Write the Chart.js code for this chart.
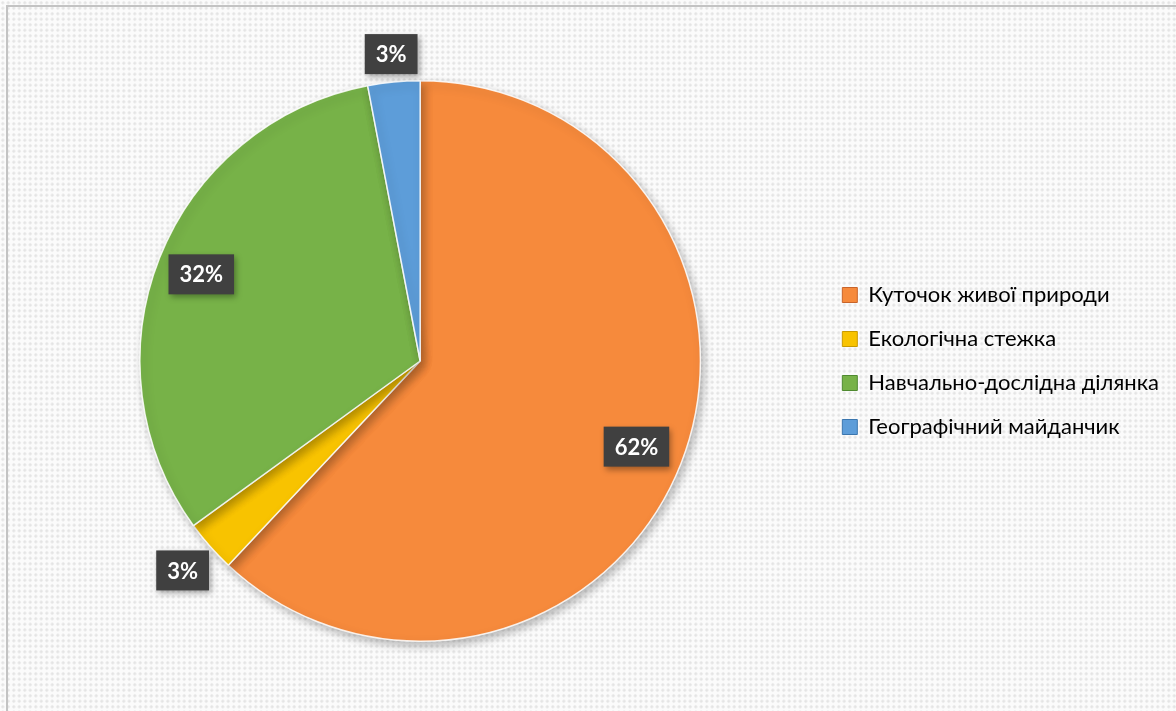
<!DOCTYPE html>
<html>
<head>
<meta charset="utf-8">
<script src="https://cdn.jsdelivr.net/npm/chart.js@4.4.1/dist/chart.umd.min.js"></script>
<style>
  html, body { margin: 0; padding: 0; background: #ffffff; }
  #wrap {
    position: absolute; left: 0; top: 0; width: 1176px; height: 711px; overflow: hidden;
    background-color: #fbfbfb;
    background-image: radial-gradient(circle, #e4e4e4 1.2px, rgba(255,255,255,0) 1.8px);
    background-size: 5.5px 5.5px;
  }
  #frame {
    position: absolute; left: 6px; top: 5px; width: 1200px; height: 740px;
    border-left: 2px solid #c3c3c3; border-top: 2px solid #c3c3c3;
  }
  canvas { position: absolute; left: 0; top: 0; }
</style>
</head>
<body>
<div id="wrap">
  <div id="frame"></div>
  <canvas id="c" width="1176" height="711"></canvas>
</div>
<script>
const categories = ['Куточок живої природи', 'Екологічна стежка', 'Навчально-дослідна ділянка', 'Географічний майданчик'];
const values = [62, 3, 32, 3];
const valueLabels = ['62%', '3%', '32%', '3%'];

const baseColors = ['#F68A3C', '#F8C300', '#77B248', '#5D9DD9'];
const rimColors  = ['#C8642A', '#C89A00', '#4F8A30', '#3B76AE'];
const labelDist  = [0.83, 1.13, 0.84, 1.10];

function sliceFill(ctx) {
  const chart = ctx.chart;
  const i = ctx.dataIndex;
  if (i === undefined) return baseColors[0];
  const meta = chart.getDatasetMeta(0);
  const arc = meta.data[i];
  if (!arc || !arc.outerRadius) return baseColors[i];
  const g = chart.ctx.createRadialGradient(arc.x, arc.y, 0, arc.x, arc.y, arc.outerRadius);
  g.addColorStop(0, baseColors[i]);
  g.addColorStop(0.955, baseColors[i]);
  g.addColorStop(1, rimColors[i]);
  return g;
}

const shadowPlugin = {
  id: 'pieShadow',
  beforeDatasetsDraw(chart) {
    const c = chart.ctx;
    c.save();
    c.shadowColor = 'rgba(0,0,0,0.28)';
    c.shadowBlur = 10;
    c.shadowOffsetX = 3;
    c.shadowOffsetY = 4;
  },
  afterDatasetsDraw(chart) {
    chart.ctx.restore();
  }
};

const labelPlugin = {
  id: 'valueBoxes',
  afterDatasetsDraw(chart) {
    const c = chart.ctx;
    const meta = chart.getDatasetMeta(0);
    meta.data.forEach((arc, i) => {
      const p = arc.getProps(['x', 'y', 'startAngle', 'endAngle', 'outerRadius'], true);
      const mid = (p.startAngle + p.endAngle) / 2;
      const r = p.outerRadius * labelDist[i];
      const x = p.x + Math.cos(mid) * r;
      const y = p.y + Math.sin(mid) * r;
      const txt = valueLabels[i];
      c.save();
      c.font = 'bold 22px Lato, "Open Sans", sans-serif';
      const w = c.measureText(txt).width + 22;
      const h = 40;
      c.shadowColor = 'rgba(0,0,0,0.35)';
      c.shadowBlur = 6;
      c.shadowOffsetX = 2;
      c.shadowOffsetY = 3;
      c.fillStyle = '#404040';
      c.fillRect(x - w / 2, y - h / 2, w, h);
      c.shadowColor = 'transparent';
      c.fillStyle = '#ffffff';
      c.textAlign = 'center';
      c.textBaseline = 'middle';
      c.fillText(txt, x, y + 1);
      c.restore();
    });
  }
};

new Chart(document.getElementById('c'), {
  type: 'pie',
  data: {
    labels: categories,
    datasets: [{
      data: values,
      backgroundColor: sliceFill,
      borderColor: 'rgba(255,255,255,0.85)',
      borderWidth: 1.5
    }]
  },
  options: {
    responsive: false,
    animation: false,
    devicePixelRatio: 1,
    layout: { padding: { top: 80, bottom: 69, left: 20, right: 7 } },
    plugins: {
      tooltip: { enabled: false },
      legend: {
        position: 'right',
        align: 'center',
        labels: {
          boxWidth: 15,
          boxHeight: 15,
          padding: 22,
          color: '#404040',
          font: { family: 'Lato, "Open Sans", sans-serif', size: 22 },
          generateLabels(chart) {
            return categories.map((t, i) => ({
              text: t,
              fillStyle: baseColors[i],
              strokeStyle: rimColors[i],
              lineWidth: 1,
              index: i,
              datasetIndex: 0,
              hidden: false
            }));
          }
        }
      }
    }
  },
  plugins: [shadowPlugin, labelPlugin]
});
</script>
</body>
</html>
